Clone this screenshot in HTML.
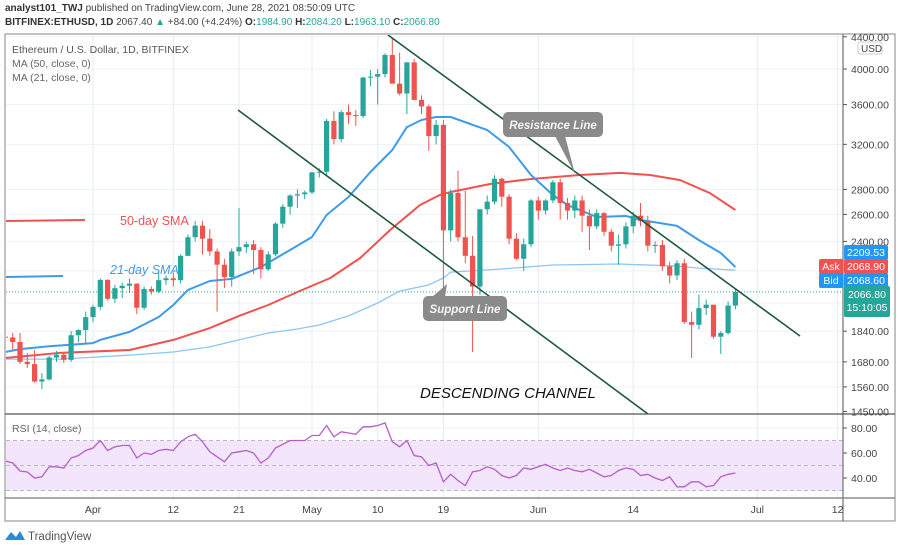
<!DOCTYPE html>
<html><head><meta charset="utf-8">
<style>
html,body{margin:0;padding:0;background:#fff;width:900px;height:551px;overflow:hidden;font-family:"Liberation Sans",sans-serif;}
#hdr1{position:absolute;left:5px;top:3px;font-size:10px;color:#444;white-space:nowrap}
#hdr2{position:absolute;left:5px;top:17px;font-size:10px;color:#444;white-space:nowrap}
.b{font-weight:bold;color:#333}.t{color:#26a69a}
svg{position:absolute;left:0;top:0}
</style></head><body>
<div id="hdr1"><span class="b">analyst101_TWJ</span> published on TradingView.com, June 28, 2021 08:50:09 UTC</div>
<div id="hdr2"><span class="b">BITFINEX:ETHUSD, 1D</span> 2067.40 <span class="t">▲</span> +84.00 (+4.24%) <span class="b">O:</span><span class="t">1984.90</span> <span class="b">H:</span><span class="t">2084.20</span> <span class="b">L:</span><span class="t">1963.10</span> <span class="b">C:</span><span class="t">2066.80</span></div>
<svg id="chart" width="900" height="551"></svg>
<script>
// ---- data (index 0 = Mar 20, 2021) ----
const opens=[1810,1806,1782,1680,1669,1585,1595,1702,1716,1690,1818,1846,1918,1977,2142,2025,2090,2105,2118,1972,2085,2070,2140,2152,2140,2300,2430,2515,2420,2330,2240,2160,2330,2360,2380,2340,2210,2310,2530,2660,2750,2760,2775,2945,2950,3430,3250,3520,3490,3480,3900,3910,3940,4170,3830,3720,4080,3650,3580,3280,3390,2480,2770,2430,2300,2100,2640,2700,2890,2740,2420,2280,2380,2710,2630,2710,2860,2690,2630,2710,2590,2510,2610,2470,2370,2380,2510,2590,2550,2370,2375,2230,2170,2250,1890,1875,1970,1990,1810,1830,1985];
const highs=[1870,1830,1830,1725,1740,1625,1710,1735,1730,1840,1850,1950,1990,2150,2145,2110,2125,2150,2120,2100,2100,2200,2170,2190,2310,2450,2550,2550,2490,2350,2280,2350,2650,2400,2410,2360,2330,2540,2680,2760,2800,2790,2950,2980,3450,3530,3540,3600,3540,3910,3990,4000,4190,4380,4200,4080,4120,3700,3600,3440,3440,2800,2960,2790,2440,2640,2750,2920,2900,2760,2460,2420,2720,2740,2720,2880,2890,2730,2750,2750,2640,2640,2620,2490,2450,2540,2620,2690,2590,2400,2410,2260,2270,2280,1950,2050,2020,1990,1840,2010,2084];
const lows=[1795,1740,1670,1650,1580,1550,1590,1680,1675,1680,1780,1770,1890,1960,2015,2000,2030,2060,1935,1960,2050,2060,2110,2100,2120,2300,2400,2310,2300,1950,2090,2100,2300,2320,2180,2150,2200,2300,2500,2600,2650,2720,2760,2900,2920,3200,3220,3400,3380,3460,3800,3600,3900,3900,3700,3500,3700,3500,3140,3200,1990,2400,2400,2250,1730,2050,2600,2680,2660,2380,2270,2200,2360,2560,2600,2690,2560,2560,2570,2470,2340,2490,2440,2330,2240,2350,2460,2510,2330,2320,2200,2120,2140,1880,1700,1850,1930,1800,1720,1820,1963];
const closes=[1806,1782,1680,1669,1585,1595,1702,1716,1690,1818,1846,1918,1977,2142,2025,2090,2105,2118,1972,2085,2070,2140,2152,2140,2300,2430,2515,2420,2330,2240,2160,2330,2360,2380,2340,2210,2310,2530,2660,2750,2760,2775,2945,2950,3430,3250,3520,3490,3480,3900,3910,3940,4170,3830,3720,4080,3650,3580,3280,3390,2480,2770,2430,2300,2100,2640,2700,2890,2740,2420,2280,2380,2710,2630,2710,2860,2690,2630,2710,2590,2510,2610,2470,2370,2380,2510,2590,2550,2370,2375,2230,2170,2250,1890,1875,1970,1990,1810,1830,1985,2067];
const rsiValues=[53.6,52,45.6,44.8,40,41,49,49,48,56,58,62,64,70,62,65,66,66,56,60,59,62,63,62,69,73,75,69,61,57,53,60,61,62,60,52,56,64,67,70,70,70,74,74,82,73,77,76,75,81,81,82,84,69,65,70,58,57,50,52,37,43,38,34,45,46,49,47,42,40,42,48,47,49,51,48,46,48,46,45,47,44,41,42,46,48,47,42,43,40,38,41,33,33,37,37,33,34,41,43,44];
const ma21Days=[-12,-10,-6,0,1,5,9,11,13,16,19,23,27,30,32,35,38,41,43,45,47,49,54,57,60,63,65,69,73,75,80,83,86,88];
const ma21Values=[1730,1745,1760,1776,1793,1836,1919,1988,2079,2135,2148,2225,2340,2432,2596,2738,2948,3147,3368,3439,3470,3470,3339,3175,2922,2754,2674,2580,2588,2558,2513,2410,2319,2225];
const ma50Days=[-12,-4.5,5,11,16,20,24,28,32.5,36.6,40.7,44.8,47.5,49,54.4,60,66.7,72.2,76.3,80.4,84.5,88];
const ma50Values=[1700,1725,1740,1793,1857,1925,1988,2066,2154,2285,2483,2674,2754,2779,2845,2888,2922,2940,2922,2879,2770,2634];
const maLongDays=[-12,-4.5,5,11,16,20,24,28,31,35,39,42,46,48,49,56,63,72,80,83,88];
const maLongValues=[1694,1694,1714,1730,1756,1793,1830,1852,1874,1925,2000,2072,2110,2154,2192,2212,2238,2245,2232,2218,2205];
const priceTicks=[4400,4000,3600,3200,2800,2600,2400,1840,1680,1560,1450];
const gridPrices=[4400,4000,3600,3200,2800,2600,2400,2200,2000,1840,1680,1560];
const dateTicks=[0,11,20,30,39,48,61,74,91,102];
const dateLabels=["Apr","12","21","May","10","19","Jun","14","Jul","12"];
const rsiTicks=[80,60,40];

const NS="http://www.w3.org/2000/svg";
const svg=document.getElementById('chart');
const X=d=>93+d*7.3;
const XI=i=>X(i-12);
const Y=p=>69+(Math.log(4000)-Math.log(p))*337.6;
const RY=v=>478-(v-40)*1.25;
function mk(tag,attrs,parent){const e=document.createElementNS(NS,tag);for(const k in attrs)e.setAttribute(k,attrs[k]);(parent||svg).appendChild(e);return e;}

const defs=mk('defs',{});
const cp=mk('clipPath',{id:'mainclip'},defs);mk('rect',{x:6,y:35,width:837,height:379},cp);
const cp2=mk('clipPath',{id:'rsiclip'},defs);mk('rect',{x:6,y:415,width:837,height:83},cp2);

// grid
const grid=mk('g',{});


gridPrices.forEach(p=>{mk('line',{x1:6,x2:843,y1:Y(p),y2:Y(p),stroke:'#edf1f6','stroke-width':1},grid);});
dateTicks.forEach(d=>{mk('line',{x1:X(d),x2:X(d),y1:35,y2:498,stroke:'#e6ecf3','stroke-width':1},grid);});
[80,60,40].forEach(v=>mk('line',{x1:6,x2:843,y1:RY(v),y2:RY(v),stroke:'#edf1f6'},grid));

// RSI band
const band=mk('rect',{x:6,y:RY(70),width:837,height:RY(30)-RY(70),fill:'#f3e5fc'});


[70,50,30].forEach(v=>mk('line',{x1:6,x2:843,y1:RY(v),y2:RY(v),stroke:'#b9b9c4','stroke-dasharray':'4,3','stroke-width':1}));

// main group
const main=mk('g',{'clip-path':'url(#mainclip)'});
const cl=mk('line',{x1:6,x2:843,y1:Y(2066.8),y2:Y(2066.8),stroke:'#26a69a','stroke-dasharray':'1,2','stroke-width':1},main);



function maLine(days,vals,color,w,name){
  const pts=days.map((d,i)=>X(d).toFixed(1)+','+Y(vals[i]).toFixed(1)).join(' ');
  const pl=mk('polyline',{points:pts,fill:'none',stroke:color,'stroke-width':w,'stroke-linejoin':'round'},main);
  
  
}
maLine(maLongDays,maLongValues,'#8ec5f5',1.3,'ma-long-line');
maLine(ma50Days,ma50Values,'#ef5350',2,'ma50-line');
maLine(ma21Days,ma21Values,'#3d9be9',2,'ma21-line');

// candles
opens.forEach((o,i)=>{
  const c=closes[i],up=c>=o,col=up?'#26a69a':'#ef5350',x=XI(i);
  const g=mk('g',{},main);
  
  
  mk('line',{x1:x,x2:x,y1:Y(highs[i]),y2:Y(lows[i]),stroke:col,'stroke-width':1},g);
  const t=Y(Math.max(o,c)),b=Y(Math.min(o,c));
  mk('rect',{x:x-2.6,y:t,width:5.2,height:Math.max(1,b-t),fill:col},g);
});

// channel lines
const up1=mk('line',{x1:388,y1:35,x2:800,y2:336,stroke:'#1e5a3c','stroke-width':1.6},main);


const lo1=mk('line',{x1:238,y1:110,x2:648,y2:414,stroke:'#1e5a3c','stroke-width':1.6},main);


const s1=mk('line',{x1:6,x2:85,y1:221,y2:220,stroke:'#ef5350','stroke-width':2},main);


const s2=mk('line',{x1:6,x2:63,y1:277,y2:276,stroke:'#3d9be9','stroke-width':2},main);



// callouts
const rc=mk('g',{});


mk('path',{d:'M555,136 L575,174 L565,136 Z',fill:'#8a8a8a'},rc);
mk('rect',{x:503,y:112,width:100,height:25,rx:5,fill:'#8a8a8a'},rc);
mk('text',{x:553,y:129,'text-anchor':'middle','font-size':11.5,'font-style':'italic','font-weight':'bold',fill:'#f4f4f4'},rc).textContent='Resistance Line';
const sc=mk('g',{});


mk('path',{d:'M432,297 L447,284 L445,297 Z',fill:'#8a8a8a'},sc);
mk('rect',{x:423,y:296,width:84,height:25,rx:5,fill:'#8a8a8a'},sc);
mk('text',{x:465,y:313,'text-anchor':'middle','font-size':11.5,'font-style':'italic','font-weight':'bold',fill:'#f4f4f4'},sc).textContent='Support Line';

function txt(x,y,s,attrs,name){const t=mk('text',Object.assign({x:x,y:y},attrs));t.textContent=s;return t;}
txt(420,398,'DESCENDING CHANNEL',{'font-size':15,'font-style':'italic',fill:'#111'},'channel-label');
txt(120,225,'50-day SMA',{'font-size':12.5,fill:'#ef5350'},'ma50-label');
txt(110,274,'21-day SMA',{'font-size':12.5,'font-style':'italic',fill:'#3d9be9'},'ma21-label');
txt(12,53,'Ethereum / U.S. Dollar, 1D, BITFINEX',{'font-size':10.5,fill:'#555'},'series-legend');
txt(12,67,'MA (50, close, 0)',{'font-size':10.5,fill:'#666'},'ma50-legend');
txt(12,81,'MA (21, close, 0)',{'font-size':10.5,fill:'#666'},'ma21-legend');

// RSI line
const rg=mk('g',{'clip-path':'url(#rsiclip)'});
const rp=mk('polyline',{points:rsiValues.map((v,i)=>XI(i).toFixed(1)+','+RY(v).toFixed(1)).join(' '),fill:'none',stroke:'#b45fc9','stroke-width':1.3},rg);


txt(12,432,'RSI (14, close)',{'font-size':10.5,fill:'#666'},'rsi-legend');

// frame
mk('rect',{x:5,y:34,width:890,height:487,fill:'none',stroke:'#9a9a9a','stroke-width':1.2});
mk('line',{x1:843,x2:843,y1:34,y2:521,stroke:'#555','stroke-width':1});
mk('line',{x1:5,x2:895,y1:414,y2:414,stroke:'#555','stroke-width':1.2});
mk('line',{x1:5,x2:895,y1:498,y2:498,stroke:'#777','stroke-width':1.2});

// price axis
priceTicks.forEach(p=>{
  const y=Y(p);
  mk('line',{x1:843,x2:847,y1:y,y2:y,stroke:'#555'});
  txt(851,y+4,p.toFixed(2),{'font-size':10.5,fill:'#444'},'price-tick');
});
const usd=mk('rect',{x:858,y:42,width:24,height:12,rx:2,fill:'#fff',stroke:'#ccc'});


txt(861,52,'USD',{'font-size':10,fill:'#444'},'currency-label');
rsiTicks.forEach(v=>{mk('line',{x1:843,x2:847,y1:RY(v),y2:RY(v),stroke:'#555'});txt(851,RY(v)+4,v.toFixed(2),{'font-size':10.5,fill:'#444'},'rsi-tick');});

// price labels
function plabel(x,y,w,h,bg,s,name){const r=mk('rect',{x:x,y:y,width:w,height:h,rx:2,fill:bg});txt(x+w/2,y+h-4,s,{'font-size':10.5,fill:'#fff','text-anchor':'middle'},name+'-text');}
plabel(844,245,44,15,'#2196f3','2209.53','ma-price-label');
plabel(819,259,24,15,'#ef5350','Ask','ask-tag');
plabel(844,259,44,15,'#ef5350','2068.90','ask-price-label');
plabel(819,273,24,15,'#2196f3','Bid','bid-tag');
plabel(844,273,44,15,'#2196f3','2068.60','bid-price-label');
const cr=mk('rect',{x:844,y:286,width:46,height:31,rx:2,fill:'#26a69a'});


txt(867,298,'2066.80',{'font-size':10.5,fill:'#fff','text-anchor':'middle'},'last-price-text');
txt(867,311,'15:10:05',{'font-size':10.5,fill:'#fff','text-anchor':'middle'},'countdown-text');

// date axis
dateTicks.forEach((d,i)=>{txt(X(d),513,dateLabels[i],{'font-size':10.5,fill:'#444','text-anchor':'middle'},'date-tick');});

// logo
const lg=mk('g',{});


mk('path',{d:'M5,540 L11,532 L16,537 L20,531 L25,540 Z',fill:'#2a8bd8'},lg);
mk('text',{x:28,y:540,'font-size':11.5,fill:'#555'},lg).textContent='TradingView';
</script>
</body></html>
